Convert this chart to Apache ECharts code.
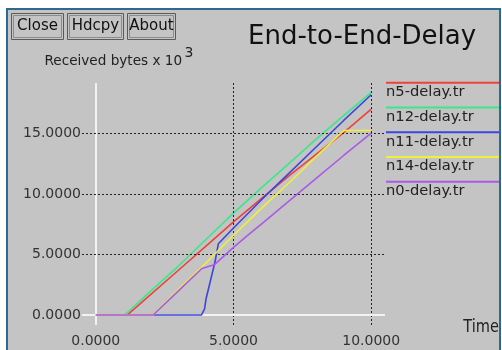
<!DOCTYPE html>
<html>
<head>
<meta charset="utf-8">
<script src="https://cdn.jsdelivr.net/npm/echarts@6/dist/echarts.min.js"></script>
<style>
html,body{margin:0;padding:0;background:#ffffff;}
#chart{width:502px;height:350px;}
</style>
</head>
<body>
<div id="chart"></div>
<script>
// ---- data (time in s, received bytes x 10^3) ----
const seriesNames = ['n5-delay.tr', 'n12-delay.tr', 'n11-delay.tr', 'n14-delay.tr', 'n0-delay.tr'];
const n5Delay  = [[0,0],[1.15,0],[2,1.7],[3,3.7],[4,5.7],[5,7.7],[6,9.6],[7,11.5],[8,13.3],[9,15.1],[10,17.04]];
const n12Delay = [[0,0],[1.05,0],[2,2.0],[3,4.05],[4,6.25],[5,8.43],[6,10.5],[7,12.5],[8,14.55],[9,16.5],[10,18.42]];
const n11Delay = [[0,0],[3.84,0],[3.95,0.5],[4.0,1.3],[4.33,4.4],[4.45,5.9],[5,7.2],[6,9.5],[7,11.7],[8,13.9],[9,16.1],[10,18.23]];
const n14Delay = [[0,0],[2.08,0],[3,2.1],[4,4.3],[5,6.6],[6,8.8],[7,10.9],[8,13.1],[9,15.27],[10,15.27]];
const n0Delay  = [[0,0],[2.08,0],[3,2.0],[3.85,3.85],[4.3,4.15],[5,5.6],[5.6,6.75],[6,7.5],[7,9.4],[8,11.3],[9,13.2],[10,15.05]];
const xTickValues = [0, 5, 10];
const yTickValues = [0, 5, 10, 15];
const buttonLabels = ['Close', 'Hdcpy', 'About'];
const chartTitle = 'End-to-End-Delay';
const yAxisTitle = 'Received bytes x 10';
const yAxisExponent = '3';
const xAxisTitle = 'Time';

// ---- styling ----
const seriesData = [n5Delay, n12Delay, n11Delay, n14Delay, n0Delay];
const colors = ['#f0403c', '#3ce68c', '#3c46dc', '#f0f03c', '#aa5ae6'];
const panelGray = '#c4c4c4';
const font = 'DejaVu Sans';

const chart = echarts.init(document.getElementById('chart'), null, {renderer: 'canvas'});

const graphics = [];
// panel
graphics.push({type: 'rect', z: -10, shape: {x: 7, y: 9, width: 493, height: 345},
  style: {fill: panelGray, stroke: '#2c6a8e', lineWidth: 2}, silent: true});
// buttons
const btnBoxes = [[11, 52], [67, 56], [127, 48]];
buttonLabels.forEach((t, i) => {
  const [bx, bw] = btnBoxes[i];
  graphics.push({type: 'rect', z: 1, shape: {x: bx + 0.5, y: 13.5, width: bw, height: 26},
    style: {fill: panelGray, stroke: '#5a5a5a', lineWidth: 1}, silent: true});
  graphics.push({type: 'rect', z: 1, shape: {x: bx + 2.5, y: 15.5, width: bw - 4, height: 22},
    style: {fill: 'none', stroke: '#8c8c8c', lineWidth: 1}, silent: true});
  graphics.push({type: 'text', z: 2, x: bx + bw / 2 + 0.5, y: 26.5,
    style: {text: t, font: '15px "' + font + '"', fill: '#111', align: 'center', verticalAlign: 'middle'}, silent: true});
});
// title
graphics.push({type: 'text', z: 2, x: 248, y: 37.3,
  style: {text: chartTitle, font: '26px "' + font + '"', fill: '#111', align: 'left', verticalAlign: 'middle'}, silent: true});
// y axis name
graphics.push({type: 'text', z: 2, x: 44.5, y: 61,
  style: {text: yAxisTitle, font: '13.6px "' + font + '"', fill: '#222', align: 'left', verticalAlign: 'middle'}, silent: true});
graphics.push({type: 'text', z: 2, x: 184.5, y: 53.5,
  style: {text: yAxisExponent, font: '14px "' + font + '"', fill: '#222', align: 'left', verticalAlign: 'middle'}, silent: true});
// x axis name
graphics.push({type: 'text', z: 2, x: 499, y: 327.5, scaleX: 0.81, scaleY: 1,
  style: {text: xAxisTitle, font: '18px "' + font + '"', fill: '#222', align: 'right', verticalAlign: 'middle'}, silent: true});
// legend
seriesNames.forEach((name, i) => {
  const ly = 82.7 + 24.75 * i;
  graphics.push({type: 'rect', z: 2, shape: {x: 386, y: ly - 1, width: 113, height: 2},
    style: {fill: colors[i]}, silent: true});
  graphics.push({type: 'text', z: 2, x: 386, y: ly + 9.5,
    style: {text: name, font: '14.7px "' + font + '"', fill: '#222', align: 'left', verticalAlign: 'middle'}, silent: true});
});

const gridLineData = []
  .concat(xTickValues.map(v => ({xAxis: v, lineStyle: v === 0 ? {color: '#f2f2f2', type: 'solid', width: 2} : {color: '#222', type: [2, 2], width: 1}})))
  .concat(yTickValues.map(v => ({yAxis: v, lineStyle: v === 0 ? {color: '#f2f2f2', type: 'solid', width: 2} : {color: '#222', type: [2, 2], width: 1}})));

const series = seriesNames.map((name, i) => ({
  name: name,
  type: 'line',
  data: seriesData[i],
  showSymbol: false,
  symbol: 'none',
  clip: false,
  z: 3 + i,
  lineStyle: {color: colors[i], width: 1.6},
  itemStyle: {color: colors[i]},
  animation: false
}));
series.unshift({
  name: 'grid',
  type: 'line',
  data: [],
  z: 1,
  animation: false,
  markLine: {
    silent: true,
    symbol: ['none', 'none'],
    label: {show: false},
    animation: false,
    data: gridLineData
  }
});

chart.setOption({
  animation: false,
  backgroundColor: 'transparent',
  textStyle: {fontFamily: font},
  grid: {left: 82, right: 117, top: 83, bottom: 25, containLabel: false},
  xAxis: {
    type: 'value', min: -0.5, max: 10.5,
    axisLine: {show: false}, axisTick: {show: false}, splitLine: {show: false},
    axisLabel: {customValues: xTickValues, formatter: v => v.toFixed(4), color: '#333', fontSize: 14, fontFamily: font, margin: 9}
  },
  yAxis: {
    type: 'value', min: -0.83, max: 19.2,
    axisLine: {show: false}, axisTick: {show: false}, splitLine: {show: false},
    axisLabel: {customValues: yTickValues, formatter: v => v.toFixed(4), color: '#333', fontSize: 14, fontFamily: font, margin: 1}
  },
  graphic: graphics,
  series: series
});
</script>
</body>
</html>
